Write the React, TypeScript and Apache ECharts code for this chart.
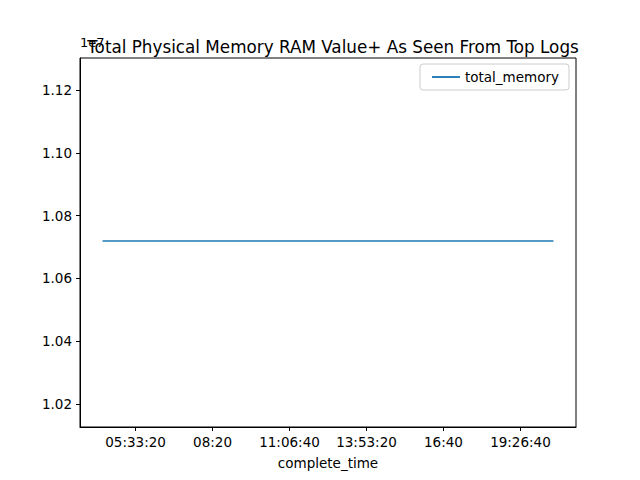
import { useEffect, useRef } from 'react'
import * as echarts from 'echarts'

// seconds since midnight
const times = [15714, 25000, 35000, 45000, 55000, 65000, 74286]
const totalMemory = [10719000, 10719000, 10719000, 10719000, 10719000, 10719000, 10719000]
const xTicks = [20000, 30000, 40000, 50000, 60000, 70000]
const yTicks = [10200000, 10400000, 10600000, 10800000, 11000000, 11200000]

const pad = (n: number) => String(n).padStart(2, '0')
const fmtTime = (s: number) => {
  const h = Math.floor(s / 3600)
  const m = Math.floor((s % 3600) / 60)
  const sec = Math.round(s % 60)
  return sec === 0 ? `${pad(h)}:${pad(m)}` : `${pad(h)}:${pad(m)}:${pad(sec)}`
}

const FONT = 'DejaVu Sans'

export default function App() {
  const ref = useRef<HTMLDivElement>(null)

  useEffect(() => {
    if (!ref.current) return
    const chart = echarts.init(ref.current, undefined, { renderer: 'svg' })
    chart.setOption({
      animation: false,
      backgroundColor: '#fff',
      textStyle: { fontFamily: FONT },
      title: {
        text: 'Total Physical Memory RAM Value+ As Seen From Top Logs',
        left: 328, top: 33, textAlign: 'center',
        textStyle: { fontSize: 16.8, fontWeight: 'normal', color: '#000', fontFamily: FONT },
      },
      graphic: [{ type: 'text', left: 80, top: 36, z: -1, style: { text: '1e7', fontSize: 13, fill: '#000', fontFamily: FONT } }],
      legend: {
        right: 71, top: 64, orient: 'vertical',
        data: ['total_memory'],
        icon: 'path://M0,0 L30,0 L30,2 L0,2 Z',
        itemWidth: 28, itemHeight: 2,
        borderColor: '#ccc', borderWidth: 1, borderRadius: 3,
        padding: [6, 10, 6, 12],
        textStyle: { fontSize: 13.5, color: '#000', fontFamily: FONT },
      },
      grid: { left: 80, right: 64, top: 58, bottom: 53, show: true, borderColor: '#000', borderWidth: 1 },
      xAxis: {
        type: 'value', min: 12785, max: 77215,
        name: 'complete_time', nameLocation: 'middle', nameGap: 29,
        nameTextStyle: { fontSize: 13.5, color: '#000', fontFamily: FONT },
        axisLine: { show: true, lineStyle: { color: '#000' } },
        axisTick: { show: true, length: 4, customValues: xTicks, lineStyle: { color: '#000' } },
        axisLabel: { customValues: xTicks, formatter: (v: number) => fmtTime(v), color: '#000', fontSize: 13.5, margin: 8, fontFamily: FONT },
        splitLine: { show: false },
      },
      yAxis: {
        type: 'value', min: 10126700, max: 11302000,
        axisLine: { show: true, lineStyle: { color: '#000' } },
        axisTick: { show: true, length: 4, customValues: yTicks, lineStyle: { color: '#000' } },
        axisLabel: { customValues: yTicks, formatter: (v: number) => (v / 1e7).toFixed(2), color: '#000', fontSize: 13.5, margin: 8, fontFamily: FONT },
        splitLine: { show: false },
      },
      series: [{
        name: 'total_memory', type: 'line',
        data: times.map((t, i) => [t, totalMemory[i]]),
        symbol: 'none', color: '#1f77b4', lineStyle: { width: 1.5, color: '#1f77b4' },
      }],
    })
    return () => chart.dispose()
  }, [])

  return <div ref={ref} style={{ width: 640, height: 480, margin: -8 }} />
}
